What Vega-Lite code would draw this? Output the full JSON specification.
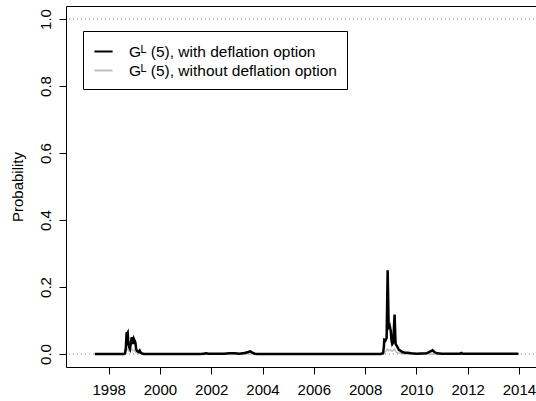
{
  "$schema": "https://vega.github.io/schema/vega-lite/v6.json",
  "width": 476,
  "height": 361,
  "autosize": "none",
  "padding": {"left": 66, "top": 6, "right": 0, "bottom": 34},
  "background": "white",
  "config": {
    "font": "Liberation Sans",
    "view": {"stroke": "black", "strokeWidth": 1},
    "axis": {
      "grid": false,
      "domain": false,
      "tickColor": "black",
      "tickSize": 7,
      "tickWidth": 1,
      "labelColor": "black",
      "labelFont": "Liberation Sans",
      "labelFontSize": 15,
      "titleFont": "Liberation Sans",
      "titleFontSize": 15,
      "titleFontWeight": "normal",
      "titleColor": "black"
    }
  },
  "datasets": {
    "ref": [{"h": 0}, {"h": 1}],
    "with": [
      {"t": 1997.46, "p": 0},
      {"t": 1998.0, "p": 0},
      {"t": 1998.6, "p": 0},
      {"t": 1998.64, "p": 0.002},
      {"t": 1998.67, "p": 0.02},
      {"t": 1998.70, "p": 0.065},
      {"t": 1998.72, "p": 0.06},
      {"t": 1998.74, "p": 0.063},
      {"t": 1998.77, "p": 0.03},
      {"t": 1998.80, "p": 0.02},
      {"t": 1998.83, "p": 0.015},
      {"t": 1998.86, "p": 0.03},
      {"t": 1998.90, "p": 0.05},
      {"t": 1998.92, "p": 0.045},
      {"t": 1998.95, "p": 0.03},
      {"t": 1998.98, "p": 0.045},
      {"t": 1999.01, "p": 0.04},
      {"t": 1999.04, "p": 0.035},
      {"t": 1999.07, "p": 0.015},
      {"t": 1999.10, "p": 0.01},
      {"t": 1999.13, "p": 0.008},
      {"t": 1999.17, "p": 0.006},
      {"t": 1999.21, "p": 0.01},
      {"t": 1999.25, "p": 0.004},
      {"t": 1999.30, "p": 0.002},
      {"t": 1999.36, "p": 0},
      {"t": 2001.6, "p": 0},
      {"t": 2001.7, "p": 0.001},
      {"t": 2001.8, "p": 0.002},
      {"t": 2001.9, "p": 0.001},
      {"t": 2002.5, "p": 0.001},
      {"t": 2002.7, "p": 0.002},
      {"t": 2002.9, "p": 0.002},
      {"t": 2003.1, "p": 0.001},
      {"t": 2003.3, "p": 0.003},
      {"t": 2003.45, "p": 0.006},
      {"t": 2003.52, "p": 0.008},
      {"t": 2003.6, "p": 0.004},
      {"t": 2003.7, "p": 0.001},
      {"t": 2003.8, "p": 0},
      {"t": 2008.6, "p": 0},
      {"t": 2008.70, "p": 0.002},
      {"t": 2008.73, "p": 0.02},
      {"t": 2008.75, "p": 0.042},
      {"t": 2008.79, "p": 0.04},
      {"t": 2008.84, "p": 0.048},
      {"t": 2008.88, "p": 0.25},
      {"t": 2008.92, "p": 0.08},
      {"t": 2008.96, "p": 0.085},
      {"t": 2009.00, "p": 0.07},
      {"t": 2009.03, "p": 0.04},
      {"t": 2009.06, "p": 0.03},
      {"t": 2009.10, "p": 0.035},
      {"t": 2009.15, "p": 0.118},
      {"t": 2009.19, "p": 0.03},
      {"t": 2009.23, "p": 0.025},
      {"t": 2009.27, "p": 0.02},
      {"t": 2009.32, "p": 0.012},
      {"t": 2009.38, "p": 0.01},
      {"t": 2009.45, "p": 0.006},
      {"t": 2009.55, "p": 0.004},
      {"t": 2009.65, "p": 0.004},
      {"t": 2009.8, "p": 0.002},
      {"t": 2010.0, "p": 0.001},
      {"t": 2010.4, "p": 0.002},
      {"t": 2010.55, "p": 0.008},
      {"t": 2010.63, "p": 0.011},
      {"t": 2010.7, "p": 0.006},
      {"t": 2010.8, "p": 0.002},
      {"t": 2011.0, "p": 0.001},
      {"t": 2011.7, "p": 0.001},
      {"t": 2011.75, "p": 0.003},
      {"t": 2011.8, "p": 0.001},
      {"t": 2012.5, "p": 0.001},
      {"t": 2013.5, "p": 0.001},
      {"t": 2013.98, "p": 0.001}
    ],
    "without": [
      {"t": 1997.46, "p": 0},
      {"t": 1998.6, "p": 0},
      {"t": 1998.68, "p": 0.01},
      {"t": 1998.72, "p": 0.015},
      {"t": 1998.76, "p": 0.012},
      {"t": 1998.80, "p": 0.008},
      {"t": 1998.85, "p": 0.012},
      {"t": 1998.90, "p": 0.015},
      {"t": 1998.95, "p": 0.01},
      {"t": 1999.00, "p": 0.012},
      {"t": 1999.05, "p": 0.005},
      {"t": 1999.15, "p": 0.002},
      {"t": 1999.30, "p": 0},
      {"t": 2008.70, "p": 0},
      {"t": 2008.80, "p": 0.008},
      {"t": 2008.87, "p": 0.015},
      {"t": 2008.92, "p": 0.01},
      {"t": 2008.97, "p": 0.012},
      {"t": 2009.05, "p": 0.008},
      {"t": 2009.15, "p": 0.015},
      {"t": 2009.20, "p": 0.006},
      {"t": 2009.35, "p": 0.002},
      {"t": 2009.50, "p": 0},
      {"t": 2013.98, "p": 0}
    ]
  },
  "layer": [
    {
      "data": {"name": "ref"},
      "mark": {"type": "rule", "stroke": "#808080", "strokeDash": [1, 3], "strokeWidth": 1},
      "encoding": {
        "y": {"field": "h", "type": "quantitative"}
      }
    },
    {
      "data": {"name": "without"},
      "mark": {"type": "line", "strokeWidth": 1.5},
      "encoding": {
        "x": {"field": "t", "type": "quantitative"},
        "y": {"field": "p", "type": "quantitative"},
        "color": {"datum": "without", "type": "nominal"}
      }
    },
    {
      "data": {"name": "with"},
      "mark": {"type": "line", "strokeWidth": 2.5},
      "encoding": {
        "x": {
          "field": "t",
          "type": "quantitative",
          "scale": {"domain": [1996.335, 2014.9], "nice": false, "zero": false},
          "axis": {
            "values": [1998, 2000, 2002, 2004, 2006, 2008, 2010, 2012, 2014],
            "format": "d",
            "title": null,
            "labelBaseline": "alphabetic",
            "labelPadding": 20,
            "labelFlush": false,
            "labelOverlap": false
          }
        },
        "y": {
          "field": "p",
          "type": "quantitative",
          "scale": {"domain": [-0.0388, 1.0388], "nice": false, "zero": false},
          "axis": {
            "values": [0, 0.2, 0.4, 0.6, 0.8, 1],
            "format": ".1f",
            "labelAngle": 270,
            "labelAlign": "center",
            "labelBaseline": "alphabetic",
            "labelPadding": 9,
            "title": "Probability",
            "titleAngle": 270,
            "titleX": -44,
            "titleY": 180.5,
            "titleAlign": "center",
            "titleBaseline": "alphabetic"
          }
        },
        "color": {
          "datum": "with",
          "type": "nominal",
          "scale": {"domain": ["with", "without"], "range": ["#000000", "#bebebe"]},
          "legend": {
            "title": null,
            "orient": "none",
            "legendX": 17,
            "legendY": 25,
            "symbolType": "stroke",
            "symbolSize": 330,
            "symbolStrokeWidth": 2,
            "labelFont": "Liberation Sans",
            "labelFontSize": 15.5,
            "labelColor": "black",
            "labelOffset": 15,
            "labelLimit": 400,
            "padding": 10,
            "rowPadding": 0,
            "strokeColor": "black",
            "fillColor": "white",
            "cornerRadius": 0,
            "labelExpr": "datum.label == 'with' ? 'Gᴸ (5), with deflation option' : 'Gᴸ (5), without deflation option'"
          }
        }
      }
    }
  ]
}
